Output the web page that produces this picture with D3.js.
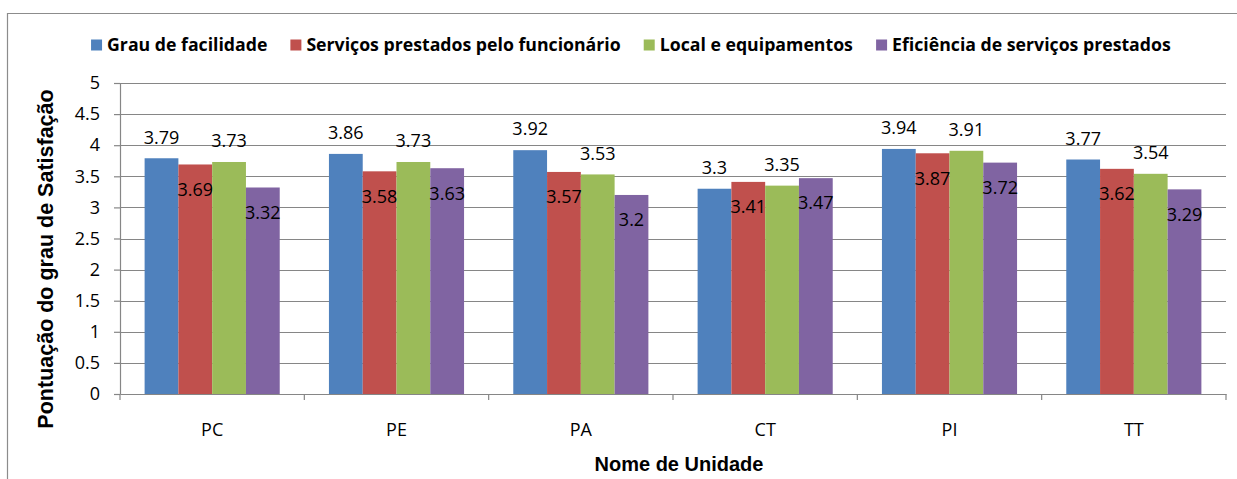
<!DOCTYPE html>
<html>
<head>
<meta charset="utf-8">
<script src="https://cdn.jsdelivr.net/npm/d3@7"></script>
<style>
  body { margin: 0; background: #fff; }
  svg { display: block; }
</style>
</head>
<body>
<div class="graph"></div>
<script>
/*
    Chart data
*/
const categories = ["PC", "PE", "PA", "CT", "PI", "TT"];
const series_names = [
    "Grau de facilidade",
    "Serviços prestados pelo funcionário",
    "Local e equipamentos",
    "Eficiência de serviços prestados"
];
const grau_facilidade = [3.79, 3.86, 3.92, 3.3, 3.94, 3.77];
const servicos_funcionario = [3.69, 3.58, 3.57, 3.41, 3.87, 3.62];
const local_equipamentos = [3.73, 3.73, 3.53, 3.35, 3.91, 3.54];
const eficiencia_servicos = [3.32, 3.63, 3.2, 3.47, 3.72, 3.29];
const y_ticks = [0, 0.5, 1, 1.5, 2, 2.5, 3, 3.5, 4, 4.5, 5];

/*
    Configuration
*/
const colors = ["#4F81BD", "#C0504D", "#9BBB59", "#8064A2"];
// labels of blue/green sit above the bar, red/purple just inside the top
const label_above = [true, false, true, false];

const svg_dimensions = { width: 1237, height: 479 };
const plot = { left: 120, right: 1226, top: 83, bottom: 394 };
const grid_color = "#868686";
const small_font = "'Open Sans', 'Noto Sans', sans-serif";
const title_font = "'Liberation Sans', Arial, sans-serif";

const all_values = [grau_facilidade, servicos_funcionario, local_equipamentos, eficiencia_servicos];

/* Data formatting */
let table = categories.map((cat, i) => ({
    cat: cat,
    values: series_names.map((name, s) => ({ s: s, name: name, value: all_values[s][i] }))
}));

/* Data scaling */
let x0 = d3.scaleBand()
            .domain(categories)
            .range([plot.left, plot.right])
            .paddingInner(0.267)
            .paddingOuter(0.1335);

let x1 = d3.scaleBand()
            .domain(d3.range(series_names.length))
            .range([0, x0.bandwidth()]);

let yScale = d3.scaleLinear()
                .domain([0, 5])
                .range([plot.bottom, plot.top]);

let container = d3.select('.graph').append('svg')
                    .attr('width', svg_dimensions.width)
                    .attr('height', svg_dimensions.height);

/* Outer frame (partially visible) */
container.append('path')
    .attr('d', 'M7.5,' + svg_dimensions.height + ' V13.5 H' + svg_dimensions.width)
    .attr('fill', 'none')
    .attr('stroke', '#8c8c8c')
    .attr('stroke-width', 1.2);

/* Gridlines */
container.append('g')
    .selectAll('line')
    .data(y_ticks.filter(d => d > 0))
    .enter().append('line')
    .attr('x1', plot.left)
    .attr('x2', plot.right)
    .attr('y1', d => Math.round(yScale(d)) + 0.5)
    .attr('y2', d => Math.round(yScale(d)) + 0.5)
    .attr('stroke', grid_color)
    .attr('stroke-width', 1.2);

/* Bars */
let groups = container.append('g')
    .selectAll('g')
    .data(table)
    .enter().append('g')
    .attr('transform', d => 'translate(' + x0(d.cat) + ',0)');

groups.selectAll('rect')
    .data(d => d.values)
    .enter().append('rect')
    .attr('x', d => x1(d.s))
    .attr('y', d => yScale(d.value))
    .attr('width', x1.bandwidth())
    .attr('height', d => yScale(0) - yScale(d.value))
    .attr('fill', d => colors[d.s]);

groups.selectAll('text')
    .data(d => d.values)
    .enter().append('text')
    .attr('x', d => x1(d.s) + x1.bandwidth() / 2)
    .attr('y', d => yScale(d.value) + (label_above[d.s] ? -21 : 25))
    .attr('dy', '0.35em')
    .attr('text-anchor', 'middle')
    .style('font-family', small_font)
    .style('font-size', '18px')
    .style('fill', '#000')
    .text(d => String(d.value));

/* Axes */
let yAxis = d3.axisLeft(yScale)
                .tickValues(y_ticks)
                .tickFormat(d => String(d))
                .tickSizeInner(6)
                .tickSizeOuter(0)
                .tickPadding(14);

let gy = container.append('g')
            .attr('transform', 'translate(' + plot.left + ',0)')
            .call(yAxis);

let xAxis = d3.axisBottom(x0)
                .tickSize(0)
                .tickPadding(36);

let gx = container.append('g')
            .attr('transform', 'translate(0,' + plot.bottom + ')')
            .call(xAxis);

[gx, gy].forEach(g => {
    g.select('.domain').attr('stroke', grid_color).attr('stroke-width', 1.2);
    g.selectAll('.tick line').attr('stroke', grid_color).attr('stroke-width', 1.2);
    g.selectAll('.tick text')
        .style('font-family', small_font)
        .style('font-size', '18px')
        .style('fill', '#000');
});
gx.selectAll('.tick text').attr('dy', '0.35em').attr('y', 36);

// category boundary ticks below the x axis
let step = x0.step();
let boundaries = d3.range(categories.length + 1).map(i => plot.left + i * step);
gx.append('g')
    .selectAll('line')
    .data(boundaries)
    .enter().append('line')
    .attr('x1', d => d)
    .attr('x2', d => d)
    .attr('y1', 0)
    .attr('y2', 6)
    .attr('stroke', grid_color)
    .attr('stroke-width', 1.2);

/* Axis titles */
container.append('text')
    .attr('transform', 'translate(53,' + 259 + ') rotate(-90)')
    .attr('text-anchor', 'middle')
    .style('font-family', title_font)
    .style('font-weight', 'bold')
    .style('font-size', '21.5px')
    .text('Pontuação do grau de Satisfação');

container.append('text')
    .attr('x', 679)
    .attr('y', 471)
    .attr('text-anchor', 'middle')
    .style('font-family', title_font)
    .style('font-weight', 'bold')
    .style('font-size', '20px')
    .text('Nome de Unidade');

/* Legend */
let legend = container.append('g');
let legend_items = legend.selectAll('g')
    .data(series_names)
    .enter().append('g');

legend_items.append('rect')
    .attr('width', 11)
    .attr('height', 11)
    .attr('y', 39.5)
    .attr('fill', (d, i) => colors[i]);

legend_items.append('text')
    .attr('x', 16)
    .attr('y', 45)
    .attr('dy', '0.35em')
    .style('font-family', small_font)
    .style('font-weight', 'bold')
    .style('font-size', '17.7px')
    .text(d => d);

let offset = 0;
let widths = [];
legend_items.each(function () {
    widths.push(this.getBBox().width);
});
let total = d3.sum(widths) + 23 * (widths.length - 1);
offset = 631 - total / 2;
legend_items.attr('transform', (d, i) => {
    let t = 'translate(' + offset + ',0)';
    offset += widths[i] + 23;
    return t;
});
</script>
</body>
</html>
